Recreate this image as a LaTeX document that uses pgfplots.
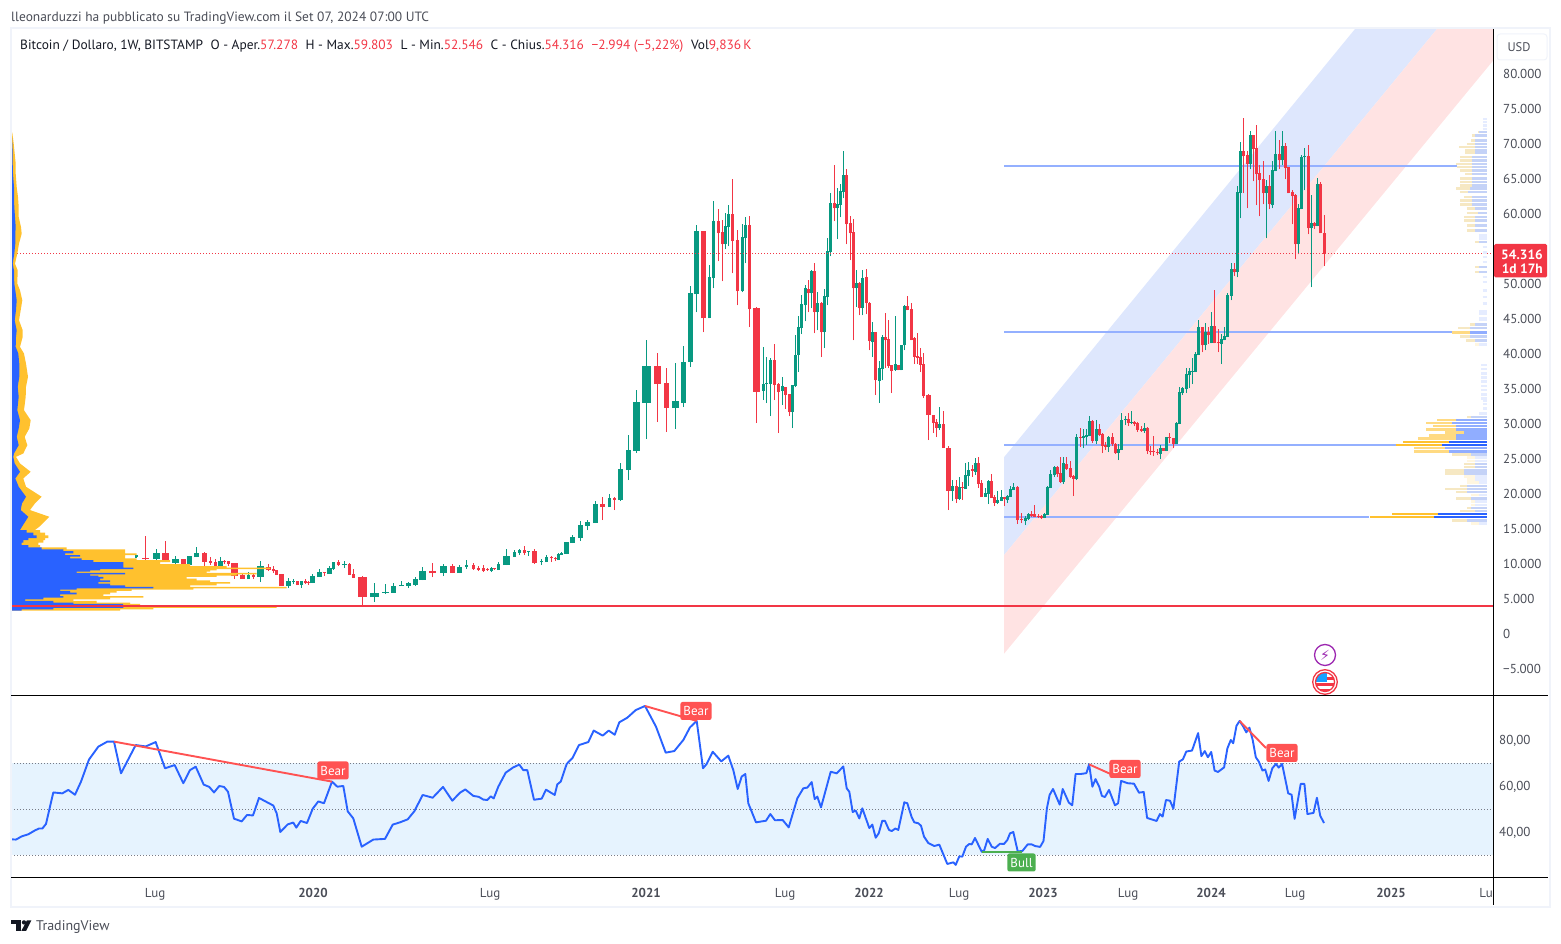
\documentclass[border=0pt]{standalone}
\usepackage{fontspec}
\usepackage{pgfplots}
\usepackage{pgfplotstable}
\pgfplotsset{compat=1.18}
\setmainfont{PT Sans}
\newfontfamily\symfont{DejaVu Sans}
\definecolor{tvgreen}{HTML}{089981}
\definecolor{tvred}{HTML}{F23645}
\definecolor{tvblue}{HTML}{2962FF}
\definecolor{tvyellow}{HTML}{FFC12E}
\definecolor{tvtext}{HTML}{131722}
\definecolor{tvaxis}{HTML}{4A4D57}
\definecolor{tvframe}{HTML}{F0F3FA}
\definecolor{chblue}{HTML}{DEE7FD}
\definecolor{chred}{HTML}{FFE3E3}
\definecolor{hlblue}{HTML}{94B0FF}
\definecolor{rsiband}{HTML}{E6F3FE}
\definecolor{bearred}{HTML}{FF5252}
\definecolor{bullgreen}{HTML}{4CAF50}
\definecolor{pinpurple}{HTML}{9C27B0}
\definecolor{dotgrey}{HTML}{787B86}
\definecolor{normblue}{HTML}{C4D2F7}
\definecolor{normyellow}{HTML}{F6E8C3}

% weekly candles, x = horizontal position on the time scale, prices in thousands
\pgfplotstableread{
x o h l c w
136 10.88 11.25 10.74 11.17 3
156.3 10.64 12.07 9.93 11.5 7
175.3 10.07 11.07 9.79 10.64 7
189.3 9.79 11.07 9.79 11.07 5
196.3 10.93 12.36 10.93 11.5 5
220.3 9.64 10.93 9.64 10.36 5
248.3 7.79 8.79 7.79 8.36 3
260.3 8.07 10.36 7.36 9.64 7
288.3 6.79 7.93 6.5 7.5 5
293.3 7.36 7.79 7.07 7.5 3
301.3 6.93 7.5 6.5 7.5 3
312.3 7.21 8.5 7.21 8.21 5
319.3 8.07 9.21 8.07 8.79 5
329.3 8.5 9.64 8.5 9.36 5
333.7 9.21 10.21 9.07 10.21 3
344.3 9.79 10.36 9.36 9.93 5
374.3 5.21 7.21 4.5 5.79 9
385.3 5.79 7.07 5.64 5.93 7
393.3 5.79 7.21 5.79 6.79 5
401.3 6.79 7.5 6.79 6.93 5
408.3 6.79 7.36 6.5 7.21 5
415.3 6.93 8.07 6.79 7.79 5
422.3 7.64 9.5 7.64 8.93 7
443.3 8.64 9.93 8.21 9.64 7
459.3 8.64 9.78 8.64 9.5 5
466.3 9.5 10.5 9.21 9.78 3
491.3 8.92 9.5 8.78 9.35 3
498.3 9.07 10.21 9.07 9.92 3
506.3 9.78 12.07 9.78 11.07 7
514.3 10.92 11.92 10.92 11.64 3
519.3 11.5 12.07 11.21 11.92 3
528.3 11.64 11.78 11.07 11.78 3
541.3 10.21 10.64 9.78 10.35 3
546.3 10.21 11.21 10.21 10.92 3
558.3 10.5 11.5 10.5 11.35 3
561.3 11.21 11.64 11.21 11.5 3
566.3 11.35 13.07 11.35 13.07 5
572.3 12.92 14.07 12.92 13.78 5
580.3 13.64 16.07 13.21 15.5 5
587.3 15.35 16.21 14.78 15.92 5
595.3 15.79 18.93 15.79 18.5 5
609.3 18.07 19.93 18.07 19.36 3
620.3 19.07 24.36 18.93 23.5 5
628.3 23.36 28.36 21.93 26.21 5
636.3 26.07 34.79 25.79 33.07 7
646.3 32.93 41.93 27.79 38.21 9
675.3 32.21 38.64 29.21 33.21 7
683.3 32.93 41.07 32.36 38.79 5
690.3 38.79 49.64 38.07 48.64 5
696.3 48.5 58.36 45.93 57.5 5
709.3 45.07 52.64 45.07 50.93 3
713.3 50.79 61.79 49.36 58.93 3
725.3 55.64 60.07 54.93 58.21 3
728.3 58.07 61.21 55.36 59.93 3
742.3 48.93 58.5 48.79 56.64 3
745.3 56.5 59.5 52.93 58.36 3
763.3 34.64 40.93 33.36 35.64 3
766.3 35.64 39.5 32.93 35.79 3
770.3 35.64 39.36 31.07 39.07 3
782.3 34.64 36.64 32.64 35.36 3
792.3 31.64 35.5 29.36 35.5 3
795.3 35.36 42.64 35.21 39.79 3
798.3 39.79 45.36 37.36 43.79 3
801.3 43.64 48.36 42.79 47.07 3
805.3 46.93 49.79 44.64 49.36 3
811.3 48.64 51.93 46.5 51.79 3
817.3 45.93 48.79 43.36 47.21 3
824.3 43.07 49.21 40.79 48.21 3
827.3 48.07 56.5 46.93 54.64 3
830.3 54.5 62.93 53.93 61.5 3
837.3 60.79 63.64 56.36 61.36 3
840.3 61.21 64.21 59.5 63.21 3
843.3 63.07 68.93 62.21 65.5 3
856.3 49.36 51.93 46.74 50.07 3
862.3 46.5 51.93 45.5 50.79 3
872.3 41.64 44.5 39.5 43.07 3
879.3 36.07 38.93 32.93 37.93 3
882.3 37.79 42.64 36.21 42.36 3
895.3 37.64 45.36 37.5 38.5 3
901.3 37.64 41.21 37.64 41.21 3
904.3 41.21 46.93 40.5 46.79 3
939.3 29.36 32.36 29.07 29.93 3
952.3 20.36 21.93 18.93 21.07 3
959.3 19.21 22.36 19.07 20.93 3
965.3 20.64 24.36 20.64 22.64 3
968.3 22.5 24.5 21.07 23.36 3
975.3 23.07 25.07 22.64 24.36 3
985.3 19.5 20.79 19.5 20.07 3
988.3 19.93 21.93 18.5 21.79 3
997.3 18.64 20.36 18.5 19.07 3
1001.3 18.93 20.5 18.93 19.5 3
1007.3 19.07 19.79 18.64 19.64 3
1010.3 19.5 21.07 19.5 20.64 3
1013.3 20.5 21.5 20.5 20.93 3
1025.3 16.07 16.79 15.5 16.5 3
1028.3 16.36 17.21 16.21 17.07 3
1044.3 16.5 17.21 16.5 17.07 3
1047.3 16.93 21.07 16.93 20.93 3
1050.3 20.79 23.36 20.79 22.79 3
1054.3 22.64 23.93 22.36 23.79 3
1063.3 21.64 25.21 21.36 24.36 3
1076.3 22.07 28.5 21.93 28.07 3
1083.3 27.93 29.21 26.5 28.21 3
1086.3 28.07 29.21 26.93 28.36 3
1089.3 28.21 31.07 28.21 30.36 3
1096.3 27.5 30.5 27.07 29.21 3
1108.3 26.64 28.21 25.93 28.07 3
1118.3 25.79 27.07 24.79 26.36 3
1121.3 26.21 31.5 26.21 30.5 3
1125.3 30.5 31.07 29.79 30.64 3
1131.3 30.07 31.79 29.93 30.21 3
1144.3 28.93 30.07 28.64 29.36 3
1160.3 25.64 26.93 24.93 26.5 3
1166.3 26.07 28.07 26.07 28.07 3
1176.3 27.07 30.21 27.07 30.07 3
1179.3 29.93 35.21 29.93 34.5 3
1182.3 34.36 35.21 34.07 35.07 3
1186.3 34.93 37.93 34.36 37.07 3
1189.3 36.93 37.93 35.07 37.5 3
1192.3 37.36 39.36 35.64 37.55 3
1195.3 37.36 40.21 37.36 39.93 3
1198.3 39.79 44.79 39.79 43.79 3
1205.3 41.21 44.36 40.5 43.07 3
1211.3 41.5 45.93 41.5 43.93 3
1221.3 41.36 42.79 38.5 42.07 3
1224.3 41.93 43.79 41.93 42.5 3
1227.3 42.36 48.64 42.36 48.36 3
1231.7 48.26 52.93 47.64 52.07 3
1237.3 51.64 63.93 50.93 63.07 3
1240.3 62.93 70.21 59.36 68.93 3
1250.3 67.07 71.78 66.35 71.21 3
1266.3 62.92 64.78 56.5 63.92 3
1272.3 61.21 67.5 60.78 66.21 3
1275.3 66.07 71.92 66.07 68.5 3
1282.3 67.64 71.92 66.92 69.64 3
1298.3 55.64 61.35 54.21 60.78 3
1301.3 60.64 68.35 60.64 68.07 3
1304.3 68.07 69.35 63.35 68.21 3
1311.3 57.92 62.64 49.5 58.64 3
1317.3 58.21 65.07 58.21 64.21 3
}\upT

\pgfplotstableread{
x o h l c w
145.3 10.79 13.93 10.02 10.64 7
165.3 11.5 13.21 10.21 10.21 7
183.3 10.64 10.64 9.79 9.79 5
204.3 11.5 11.64 9.64 10.21 5
210.3 10.36 10.93 9.79 10.07 3
215.3 10.21 10.64 9.64 9.64 3
224.3 10.36 10.5 9.93 10.21 3
228.3 10.36 10.36 9.64 9.93 3
234.3 10.07 10.07 7.79 8.21 7
242.3 8.36 8.6 7.79 7.79 5
253.3 8.36 8.5 7.79 8.07 3
268.3 9.5 9.93 8.93 9.07 5
273.3 9.21 9.64 8.64 8.93 3
276.3 9.07 9.07 8.36 8.36 3
281.3 8.5 8.5 6.79 6.79 5
297.3 7.5 7.5 6.93 6.93 3
305.3 7.5 7.79 7.07 7.21 3
308.3 7.36 7.5 6.93 7.21 3
324.3 8.79 8.79 8.21 8.64 3
338.3 10.21 10.5 9.64 9.79 3
349.3 9.93 10.07 8.36 8.36 3
353.3 8.5 9.21 7.93 7.93 3
362.3 8.07 8.21 4.07 5.21 9
432.3 8.93 10.07 8.07 8.64 7
452.3 9.64 9.93 8.64 8.64 5
473.3 9.78 10.07 9.07 9.21 3
478.3 9.35 9.64 8.92 9.07 3
483.3 9.35 9.78 8.78 8.92 3
487.7 9.21 9.35 8.92 9.07 3
494.3 9.35 9.35 9.07 9.21 3
524.3 11.92 12.5 11.21 11.5 3
534.3 11.78 12.07 9.92 10.07 5
551.3 10.92 11.07 10.21 10.78 3
555.3 10.78 10.92 10.35 10.64 3
602.3 18.5 19.5 16.21 18.07 5
614.3 19.36 19.5 17.64 19.07 3
657.3 38.21 40.07 30.21 35.64 7
666.3 35.79 37.93 28.79 32.21 5
703.3 57.5 57.5 43.07 45.07 5
718.3 58.93 60.64 53.21 57.21 3
722.3 57.36 59.07 50.36 55.64 3
732.3 59.93 64.93 51.5 56.07 3
737.3 56.21 57.64 46.93 48.93 3
749.3 58.36 59.64 43.79 46.36 3
756.3 46.5 46.64 30.07 34.5 7
774.3 39.07 41.36 33.36 35.5 3
778.3 35.64 35.79 28.64 34.5 3
785.3 35.21 35.21 32.07 34.07 3
789.3 34.21 34.21 31.07 31.64 3
808.3 49.21 50.5 45.93 48.64 3
814.3 51.79 52.93 42.93 45.93 3
821.3 47.21 47.36 39.5 43.07 3
834.3 61.5 66.93 58.93 60.79 3
846.3 65.5 66.36 55.64 58.5 3
850.3 58.64 59.64 53.36 57.21 3
853.3 57.36 59.21 41.93 49.36 3
859.3 50.07 50.21 45.5 46.5 3
866.3 50.93 52.07 45.64 47.21 3
869.3 47.21 47.36 40.5 41.79 3
875.3 43.07 43.07 34.07 36.21 3
885.3 42.36 45.79 37.93 41.93 3
888.3 42.07 44.79 37.93 38.21 3
891.3 38.36 38.36 34.36 37.5 3
898.3 38.36 38.36 37.64 37.64 3
907.3 46.79 48.21 46.21 46.21 3
911.3 46.36 47.21 41.93 41.93 3
914.3 42.21 42.36 38.5 39.5 3
917.3 39.64 42.93 38.5 39.36 3
920.3 39.5 40.79 37.36 38.36 3
923.3 38.5 40.07 33.64 33.93 3
928.3 34.07 34.21 27.64 31.21 5
933.3 31.21 31.21 28.64 30.07 3
936.3 30.21 30.64 28.07 29.36 3
943.3 29.93 31.79 26.5 26.5 3
948.3 26.5 26.79 17.64 20.36 5
956.3 21.07 21.93 18.64 19.21 3
962.3 20.93 21.64 19.07 20.79 3
972.3 23.5 24.07 22.4 23.26 3
978.3 24.36 25.21 20.79 21.36 3
981.3 21.5 21.93 19.5 19.5 3
991.3 21.79 22.79 19.36 19.36 3
994.3 19.5 19.79 18.21 18.64 3
1004.3 19.45 19.5 18.21 19.21 3
1017.3 20.93 21.07 15.64 16.21 3
1021.3 16.36 17.21 15.79 16.21 3
1031.3 17.07 17.5 16.64 16.79 3
1034.3 17.07 18.36 16.64 16.64 3
1038.3 16.79 17.07 16.5 16.64 3
1041.3 16.79 16.93 16.36 16.5 3
1057.3 23.79 23.93 22.36 22.79 3
1060.3 22.93 25.21 21.5 21.64 3
1066.3 24.21 25.21 23.36 23.5 3
1070.3 23.64 24.64 22.21 22.36 3
1073.3 22.5 22.64 19.64 22.07 3
1080.3 28.07 29.36 26.64 27.93 3
1092.3 30.36 30.5 27.21 27.5 3
1099.3 29.21 29.93 28.21 28.36 3
1102.3 28.5 28.64 25.79 26.79 3
1105.3 26.93 27.36 26.21 26.64 3
1112.3 28.07 28.64 26.79 27.07 3
1115.3 27.07 27.21 25.64 25.79 3
1128.3 30.64 31.5 29.64 30.07 3
1134.3 30.21 30.36 29.64 29.93 3
1137.3 30.07 30.21 28.79 29.07 3
1141.3 29.21 29.64 28.79 28.93 3
1147.3 29.36 29.5 25.64 26.07 3
1150.3 26.07 26.79 25.5 25.93 3
1153.3 26.07 28.21 25.36 25.93 3
1157.3 25.93 26.36 25.5 25.79 3
1163.3 26.5 26.5 26.07 26.07 3
1169.3 28.07 28.64 27.21 27.93 3
1173.3 27.93 27.93 26.5 27.07 3
1202.3 43.79 43.79 40.21 41.21 3
1208.3 43.07 43.83 41.45 42.64 3
1214.3 43.93 49.07 41.5 41.5 3
1218.3 41.64 43.5 40.21 41.5 3
1234.3 52.07 52.93 51.07 51.64 3
1243.3 68.93 73.78 62.93 68.21 3
1247.3 68.35 68.93 60.78 67.07 3
1253.3 71.21 71.21 64.64 69.21 3
1256.3 69.35 72.78 61.21 65.64 3
1259.3 65.78 66.92 59.64 64.78 3
1263.3 64.92 67.5 61.35 62.92 3
1269.3 63.92 65.5 60.64 61.35 3
1279.3 68.5 70.5 66.35 67.64 3
1285.3 69.64 70.07 64.92 66.5 3
1288.3 66.64 66.64 62.92 62.92 3
1292.3 63.07 63.35 58.5 62.5 3
1295.3 62.64 62.78 53.5 55.64 3
1308.3 68.21 69.92 57.07 57.92 3
1314.3 58.64 58.83 57.88 58.21 3
1320.3 64.21 64.5 57.21 57.21 3
1324.3 57.278 59.803 52.546 54.316 3
}\downT

% volume profile on the left: price, end of the blue part, end of the yellow part
\pgfplotstableread{
k b y
71.69 11 11
71.6 11.7 12.3
70.03 12.3 13.7
68.6 12.7 14.7
67.17 12.7 15.7
65.74 13 15.7
63.84 14 16.7
62.41 14 18
60.98 14.3 18.7
59.55 15 18.7
58.12 15.7 21
57.17 15.3 21.7
55.74 15.3 19
54.31 14.3 17.3
52.88 12.7 15
51.93 14 17.7
50.03 14.3 17.3
49.07 15.3 20
47.65 16.7 22.3
46.22 16 20.7
44.79 14.7 19
43.36 16.7 22.7
42.41 16 22.7
40.98 15.7 20
40.03 18.3 24
38.6 19.3 26
36.69 19.3 28
35.26 17.7 26
33.84 18.7 25.7
31.93 17.3 24
30.5 20 30.7
29.31 18.7 29.3
28.12 16.7 24.7
26.93 18.7 27.3
25.74 14 23.3
25.26 13.3 16
24.31 14.7 20
23.12 20 30.7
22.17 15.3 23.3
20.98 18.7 26
19.55 26 41.7
18.6 22 35
17.65 20.7 30
16.69 28.3 49.3
15.27 22 39.3
14.8 20 35
14.79 11 11
}\leftTop
\pgfplotstableread{
k b y
14.79 11 11
14.79 20 35
14.41 26.7 40
14.03 33.3 45
13.65 36.7 48.3
13.36 28.3 45
12.98 23.3 43.3
12.65 21.7 38.3
12.31 28.3 40
12.03 41.7 66.7
11.79 63.3 125
11.46 73.3 125
11.22 65 136.7
10.98 80 125
10.74 70 125
10.5 81.7 136.7
10.22 93.3 170
9.93 123.3 160
9.65 123.3 190
9.41 123.3 226.7
9.22 133.3 270
9.03 100 216.7
8.84 90 210
8.65 76.7 206.7
8.46 125 256.7
8.27 90 236.7
8.08 98.3 216.7
7.84 103.3 186.7
7.6 100 196.7
7.36 110 210
7.12 98.3 230
6.89 110 216.7
6.65 125 190
6.46 153.3 286.7
6.27 76.7 193.3
6.08 60 131.7
5.84 70 116.7
5.6 76.7 110
5.36 60 103.3
5.12 63.3 143.3
4.88 43.3 110
4.65 25 73.3
4.41 53.3 96.7
4.22 73.3 130
3.88 123 140
3.65 123.3 276.7
3.46 53.3 153.3
3.27 21.7 120
3.08 11 11
}\leftLow

% volume profile on the right, rows by strength
\pgfplotstableread{
k b y
73.59 1483.3 1483.3
73.11 1483.3 1483.3
72.64 1483.3 1483.3
72.16 1482.7 1482.7
56.92 1479.3 1479.3
56.45 1479.3 1479.3
55.26 1482.7 1482.7
54.5 1482.7 1482.7
53.83 1482.7 1482.7
53.1 1482.7 1482.7
50.97 1482.7 1482.7
50.26 1482.7 1482.7
49.07 1482.7 1482.7
48.1 1482.7 1482.7
47.16 1482.7 1482.7
46 1479 1479
45.73 1479.3 1479.3
45 1479.3 1479.3
44.8 1479 1479
41.3 1479 1475
38.4 1481 1481
37.8 1481 1481
37.2 1481 1481
36.6 1481 1481
36 1481 1481
35.4 1481 1481
34.8 1481 1481
34.2 1481 1481
33.6 1481 1481
33.22 1483 1483
32.79 1483 1483
32.17 1483 1483
31.46 1479 1479
25.17 1475 1467
24.69 1475 1467
22.41 1475 1464
22.03 1475 1467
21.6 1479 1467
19.79 1479 1471
18.84 1475 1471
18.36 1475 1471
15.74 1479 1471
}\rvpPale
\pgfplotstableread{
k b y
71.69 1479.3 1478.3
71.21 1475 1471.7
70.5 1475 1471
70.02 1475 1466.7
69.54 1475 1459.3
69.07 1475 1465
68.69 1475 1465
68.11 1471.7 1460
67.64 1471.7 1460
67.16 1471.7 1456
66.69 1471.7 1456.7
66.21 1471.7 1460
65.73 1471.7 1465
65.02 1471.7 1460
64.54 1471.7 1460
64.07 1471.7 1460
63.59 1470 1456
63.11 1468.3 1460
62.4 1471.7 1464
61.92 1471.7 1460
61.35 1471.7 1460
60.73 1475 1466.7
60.11 1478.3 1466.7
59.54 1475 1464
59.07 1475 1464
58.35 1475 1466.7
57.64 1475 1466.7
55.97 1479.3 1475
52.4 1479.3 1475
51.69 1479.3 1475
44.2 1475 1470
43.7 1470 1458
42.5 1470 1460
41.9 1475 1466
30.98 1471 1467
25.6 1471 1452
24.22 1475 1464
23.79 1475 1464
23.31 1464 1445
22.88 1464 1445
21.07 1467 1460
20.65 1467 1445
20.22 1467 1456
19.31 1471 1456
17.93 1471 1467
17.5 1475 1460
16.17 1467 1452
}\rvpNorm
\pgfplotstableread{
k b y
43.07 1470 1452
30.5 1456 1437
30.07 1452 1426
29.65 1456 1433
29.17 1456 1426
28.74 1464 1445
28.31 1456 1429
27.88 1456 1418
26.5 1445 1414
26.03 1449 1414
}\rvpMid
\pgfplotstableread{
k b y
27.36 1449 1403
26.98 1442 1395.7
17.07 1437.7 1392
16.64 1434 1370
}\rvpFull

\newcommand\wicks[2]{\addplot[forget plot,draw=none,no marks,error bars/.cd,y dir=plus,y explicit,error mark=none,
  error bar style={draw=#2,line width=1.3pt}] table[x=x,y=l,y error plus expr=\thisrow{h}-\thisrow{l}] {#1};}
\newcommand\bodiesUp[2]{\addplot[forget plot,draw=none,no marks,restrict expr to domain={\thisrow{w}}{#2.0:#2.9},error bars/.cd,y dir=plus,y explicit,error mark=none,
  error bar style={draw=tvgreen,line width=#2pt}] table[x=x,y=o,y error plus expr=\thisrow{c}-\thisrow{o}] {#1};}
\newcommand\bodiesDown[2]{\addplot[forget plot,draw=none,no marks,restrict expr to domain={\thisrow{w}}{#2.0:#2.9},error bars/.cd,y dir=plus,y explicit,error mark=none,
  error bar style={draw=tvred,line width=#2pt}] table[x=x,y=c,y error plus expr=\thisrow{o}-\thisrow{c}] {#1};}
\newcommand\vprow[3]{%
  \addplot[forget plot,draw=none,no marks,error bars/.cd,x dir=plus,x explicit,error mark=none,
    error bar style={draw=#3,line width=2.6pt}] table[x=y,y=k,x error plus expr=1487-\thisrow{y}] {#1};
  \addplot[forget plot,draw=none,no marks,error bars/.cd,x dir=plus,x explicit,error mark=none,
    error bar style={draw=#2,line width=2.6pt}] table[x=b,y=k,x error plus expr=1487-\thisrow{b}] {#1};}

\begin{document}
\begin{tikzpicture}
\useasboundingbox (0,0) rectangle (1561pt,944pt);

\begin{axis}[
  at={(11pt,249pt)}, anchor=south west, scale only axis,
  width=1482pt, height=666pt,
  xmin=11, xmax=1493, ymin=-8.794, ymax=86.44,
  axis line style={draw=none}, tick style={draw=none},
  xtick=\empty,
  ytick={-5,0,5,10,15,20,25,30,35,40,45,50,55,60,65,70,75,80},
  yticklabels={−5.000,0,5.000,10.000,15.000,20.000,25.000,30.000,35.000,40.000,45.000,{},{},60.000,65.000,70.000,75.000,80.000},
  yticklabel pos=right,
  yticklabel style={anchor=west,inner sep=0pt,xshift=10pt,yshift=-0.4pt,font=\fontsize{13}{15}\selectfont,text=tvaxis},
]
% regression channel
\addplot[forget plot,draw=none,fill=chblue] coordinates {(1004,25.2) (1355,86.44) (1437,86.44) (1004,11.2)} --cycle;
\addplot[forget plot,draw=none,fill=chred] coordinates {(1004,11.2) (1437,86.44) (1493,86.44) (1493,81.9) (1004,-2.9)} --cycle;
% horizontal levels
\addplot[forget plot,draw=hlblue,line width=2pt] coordinates {(1004,66.8) (1457,66.8)};
\addplot[forget plot,draw=hlblue,line width=2pt] coordinates {(1004,43.07) (1452,43.07)};
\addplot[forget plot,draw=hlblue,line width=2pt] coordinates {(1004,26.93) (1396,26.93)};
\addplot[forget plot,draw=hlblue,line width=2pt] coordinates {(1004,16.64) (1369,16.64)};
% candles
\wicks{\upT}{tvgreen}
\wicks{\downT}{tvred}
\bodiesUp{\upT}{3}\bodiesUp{\upT}{5}\bodiesUp{\upT}{7}\bodiesUp{\upT}{9}
\bodiesDown{\downT}{3}\bodiesDown{\downT}{5}\bodiesDown{\downT}{7}\bodiesDown{\downT}{9}
% last price
\addplot[forget plot,draw=tvred,line width=1pt,dash pattern=on 1pt off 2pt] coordinates {(11,54.316) (1493,54.316)};
% left volume profile
\addplot[forget plot,draw=none,fill=tvyellow] table[x=y,y=k] {\leftTop} --cycle;
\addplot[forget plot,draw=none,fill=tvblue] table[x=b,y=k] {\leftTop} --cycle;
\addplot[forget plot,const plot,draw=none,fill=tvyellow] table[x=y,y=k] {\leftLow} --cycle;
\addplot[forget plot,const plot,draw=none,fill=tvblue] table[x=b,y=k] {\leftLow} --cycle;
\addplot[forget plot,draw=tvred,line width=2.5pt] coordinates {(11,3.93) (1493,3.93)};
% right volume profile
\vprow{\rvpPale}{tvblue!12}{tvyellow!15}
\vprow{\rvpNorm}{normblue}{normyellow}
\vprow{\rvpMid}{tvblue!52}{tvyellow!60}
\vprow{\rvpFull}{tvblue}{tvyellow}
\end{axis}

\begin{axis}[
  at={(11pt,67pt)}, anchor=south west, scale only axis,
  width=1482pt, height=182pt,
  xmin=11, xmax=1493, ymin=20.43, ymax=99.57,
  axis line style={draw=none}, tick style={draw=none},
  xtick={155,313,490,646,785,869,959,1043,1128,1211,1295,1391,1486},
  xticklabels={Lug,{\bfseries 2020},Lug,{\bfseries 2021},Lug,{\bfseries 2022},Lug,{\bfseries 2023},Lug,{\bfseries 2024},Lug,{\bfseries 2025},Lu},
  xticklabel style={inner sep=0pt,yshift=-11pt,font=\fontsize{13}{15}\selectfont,text=tvaxis},
  ytick={40,60,80},
  yticklabels={{40,00},{60,00},{80,00}},
  yticklabel pos=right,
  yticklabel style={anchor=west,inner sep=0pt,xshift=6pt,yshift=-0.7pt,font=\fontsize{13}{15}\selectfont,text=tvaxis},
]
\addplot[forget plot,draw=none,fill=rsiband] coordinates {(11,30) (1493,30) (1493,70) (11,70)} --cycle;
\addplot[forget plot,draw=dotgrey,line width=0.9pt,dash pattern=on 1pt off 2pt] coordinates {(11,70) (1493,70)};
\addplot[forget plot,draw=dotgrey,line width=0.9pt,dash pattern=on 1pt off 2pt] coordinates {(11,50) (1493,50)};
\addplot[forget plot,draw=dotgrey,line width=0.9pt,dash pattern=on 1pt off 2pt] coordinates {(11,30) (1493,30)};
% RSI
\addplot[forget plot,draw=tvblue,line width=1.9pt,line join=round] coordinates {
(11.7,36.8)(16,36.7)(21.7,38.1)(28.3,39)(35,40.7)(39,41.5)(42.3,41.5)(46,43.5)(53.3,57.2)(62.3,56.8)
(68.3,58.3)(75,56.2)(81,61.9)(89,71.5)(98.3,77.1)(107.3,79.3)(114,79.3)(121,65.5)(135.7,77.8)(145.7,77.2)
(155.7,79.1)(165,67.7)(174.7,69.1)(183.3,61.2)(190,66.9)(195.7,68.4)(203.7,60.6)(209.3,59.6)(214,57.2)(219.3,60)
(224,59.6)(228,57.5)(234,45.8)(241.7,44.6)(247,47.4)(253,47.2)(259,54.8)(273.3,51.5)(276.7,48.1)(280.3,40)
(287.7,43.3)(293.3,44.1)(296.3,41.9)(300.7,44.8)(307,43.9)(312.7,50.1)(318.3,53.3)(324,52.5)(332,61.9)(337.3,59.7)
(343.3,60)(347.7,49)(353.3,45.9)(361.7,33.6)(373.3,36.7)(385,37)(392.7,43.2)(400,44.2)(407.7,45.5)(414.3,49)
(422.7,56.1)(432.7,54.9)(443,59.6)(452.3,53.6)(460,57.1)(465.3,58.5)(473.3,55.7)(478.7,55.3)(483.3,54.1)(487.3,53.9)
(490.7,55.5)(493.7,54.6)(498.3,59.7)(505.7,65.8)(513.3,68.1)(519.3,69.3)(523.3,66.9)(527.3,66.9)(534,54)(541.7,54.5)
(546,58.4)(554.7,56.1)(557.3,60.7)(560.7,61.9)(566.7,69.6)(572.7,72.3)(579,77.8)(588.3,79.1)(593.7,84.1)(602.7,81.9)
(608.7,84.1)(614.7,82.3)(619.3,87.7)(627.3,89.7)(635.7,93)(645,94.8)(656,85.8)(665.7,74.5)(674.3,75.2)(683.3,80)
(690,85.5)(696.7,88.3)(703,67.7)(706.7,69.6)(712.7,74.9)(721.3,70.7)(728.3,73.2)(733.3,66.9)(737.7,58.7)(741.7,64.1)
(745.3,65.2)(748.3,52.5)(756,44.2)(766,44.9)(770.3,47.8)(775,45.1)(782.7,45.2)(788.7,42)(797.3,54.6)(803.3,59)
(807.3,59.3)(811.7,61.7)(814.7,54.3)(817.3,55.4)(821,50.7)(830.7,66.2)(836.7,65.5)(843.3,68.5)(846.7,59)(849.3,57.5)
(852.7,48.7)(855.7,49.3)(859.3,45.9)(862.3,50.3)(869.3,41.7)(872.3,43.2)(875.7,37.5)(878.7,39.4)(882.3,44.9)(885,44.8)
(889,40.9)(891.7,40.4)(895.3,41.5)(898.3,40.9)(904.3,52.9)(907.3,52.5)(911.7,46.4)(914.3,44.2)(918.3,43.8)(921,42.7)
(924,38)(928.3,35.2)(934.3,33.9)(939.3,34.5)(947.3,26.1)(953.3,26.8)(955.7,25.7)(959.3,29.4)(962.3,29.3)(966,33.6)
(969.3,34.8)(971.7,34.6)(975,37.4)(981.7,31.4)(984.3,32.2)(987.7,37)(991.7,33.6)(995,33)(1000,34.9)(1004,34.8)
(1007.3,36.5)(1010,39.4)(1013.3,40)(1017.7,31.6)(1022.3,31.7)(1027.7,34.6)(1031.7,34.6)(1035.1,33.9)(1040.1,33.5)(1043.5,36.1)
(1046.9,50.3)(1049.6,56.1)(1053,58.7)(1059.7,51.9)(1062.7,58.7)(1068.8,52.8)(1072.2,51.6)(1075.6,65.2)(1080.6,65.2)(1086.4,65.6)
(1089.1,69.4)(1092.4,59.7)(1095.5,63)(1099.2,59.7)(1101.9,55.7)(1104.9,55.2)(1109,58.3)(1115,51.6)(1118.1,52.5)(1121.1,62.2)
(1127.9,61.2)(1134,61)(1139,57.1)(1143.7,57.4)(1147.1,46.1)(1156.6,44.8)(1159.9,47.8)(1162.6,46.7)(1166,53.9)(1170,53.6)
(1173.4,50.1)(1179.2,70.6)(1182.9,71.6)(1186.3,75)(1192,75.4)(1198.1,83)(1201.4,73)(1204.8,75.2)(1207.9,72.5)(1211.2,74.8)
(1214.6,66.7)(1218,66.1)(1224.1,68.1)(1227.4,76.4)(1230.8,80)(1233.2,78.6)(1236.5,86.2)(1239.6,88.3)(1243.3,85.8)(1246.3,83.3)
(1249.4,85.4)(1252.7,80)(1255.8,72.5)(1258.8,70.6)(1262.5,66.7)(1265.2,67.2)(1268.6,62.2)(1272.3,67.7)(1276,69.6)(1278.7,68)
(1282.1,69.6)(1288.2,56.8)(1291.6,56.2)(1294.6,45.7)(1300.7,60.9)(1304.4,60.9)(1307.4,47.8)(1313.5,48.3)(1316.9,54.9)(1320.2,47.1)
(1324,43.9)};
% divergences
\addplot[forget plot,draw=bearred,line width=1.9pt] coordinates {(114,79.3) (332,61.9)};
\addplot[forget plot,draw=bearred,line width=1.9pt] coordinates {(645,94.8) (696.7,88.3)};
\addplot[forget plot,draw=bearred,line width=1.9pt] coordinates {(1089.1,69.4) (1112.7,64.8)};
\addplot[forget plot,draw=bearred,line width=1.9pt] coordinates {(1239.6,88.3) (1266,76.5)};
\addplot[forget plot,draw=bullgreen,line width=1.9pt] coordinates {(981.7,31.4) (1021.7,31.4)};
\end{axis}

\begin{scope}[x=1pt,y=-1pt,yshift=944pt]
  % frame and separators
  \draw[tvframe,line width=2pt] (10.5,28.5) rectangle (1550,907);
  \draw[black,line width=1pt] (11,695.5) -- (1548,695.5);
  \draw[black,line width=1pt] (11,877.5) -- (1548,877.5);
  \draw[black,line width=1pt] (1493.5,29) -- (1493.5,905);
  % texts above the chart
  \node[anchor=west,inner sep=0pt,text=tvaxis,font=\fontsize{13.45}{15}\selectfont] at (11,17.8)
    {lleonarduzzi ha pubblicato su TradingView.com il Set 07, 2024 07:00 UTC};
  \node[anchor=west,inner sep=0pt,text=tvtext,font=\fontsize{13.4}{15}\selectfont] at (20,46.5)
    {Bitcoin / Dollaro, 1W, BITSTAMP\hspace{7.5pt}O - Aper.\textcolor{tvred}{57.278}\hspace{7.5pt}H - Max.\textcolor{tvred}{59.803}\hspace{7.5pt}L - Min.\textcolor{tvred}{52.546}\hspace{7.5pt}C - Chius.\textcolor{tvred}{54.316}\hspace{7.5pt}\textcolor{tvred}{−2.994 (−5,22\%)}\hspace{7.5pt}Vol\textcolor{tvred}{9,836\,K}};
  % currency box and last price label
  \draw[tvframe,fill=white,line width=1pt,rounded corners=3pt] (1497,34) rectangle (1547,60);
  \node[text=tvaxis,font=\fontsize{12.5}{15}\selectfont] at (1519,47) {USD};
  \fill[tvred,rounded corners=1.5pt] (1494,244) rectangle (1547,277.5);
  \node[text=white,anchor=east,inner sep=0pt,font=\fontsize{13.5}{15}\bfseries\selectfont] at (1543,254.5) {54.316};
  \node[text=white,anchor=east,inner sep=0pt,font=\fontsize{13.5}{15}\bfseries\selectfont] at (1543,269) {1d 17h};
  \node[text=tvaxis,anchor=west,inner sep=0pt,font=\fontsize{13}{15}\selectfont] at (1503,283.8) {50.000};
  % divergence labels
  \tikzset{lab/.style={text=white,rounded corners=2pt,inner ysep=2.5pt,inner xsep=3pt,font=\fontsize{13}{15}\selectfont,minimum height=18pt}}
  \node[lab,fill=bearred] at (333,770.5) {Bear};
  \node[lab,fill=bearred] at (696,711) {Bear};
  \node[lab,fill=bearred] at (1125,769) {Bear};
  \node[lab,fill=bearred] at (1282,753) {Bear};
  \node[lab,fill=bullgreen] at (1021.5,862.5) {Bull};
  % event pins
  \draw[draw=pinpurple,fill=white,line width=1.3pt] (1325,655) circle (10.5);
  \node[text=pinpurple,font=\symfont\fontsize{14}{14}\selectfont,inner sep=0pt] at (1325,655) {⚡};
  \draw[draw=tvred,fill=white,line width=1.3pt] (1325,682) circle (12.3);
  \begin{scope}
    \clip (1325,682) circle (9.5);
    \fill[tvred] (1315,677) rectangle (1336,680);
    \fill[tvred] (1315,683) rectangle (1336,686);
    \fill[tvred] (1315,689) rectangle (1336,693);
    \fill[tvblue!60!cyan] (1315,672) rectangle (1327,682);
  \end{scope}
  \draw[draw=tvred,line width=1.3pt] (1325,682) circle (9.5);
  % footer
  \fill[tvtext] (11,920.5) rectangle (20.5,924.2);
  \fill[tvtext] (15.5,924) rectangle (20.5,931);
  \fill[tvtext] (24,922.4) circle (2.2);
  \fill[tvtext] (26.8,920.5) -- (31.3,920.5) -- (26,931) -- (21.3,931) -- cycle;
  \node[anchor=west,inner sep=0pt,text=tvaxis,font=\fontsize{14}{16}\selectfont] at (36,927.5) {TradingView};
\end{scope}
\end{tikzpicture}
\end{document}
